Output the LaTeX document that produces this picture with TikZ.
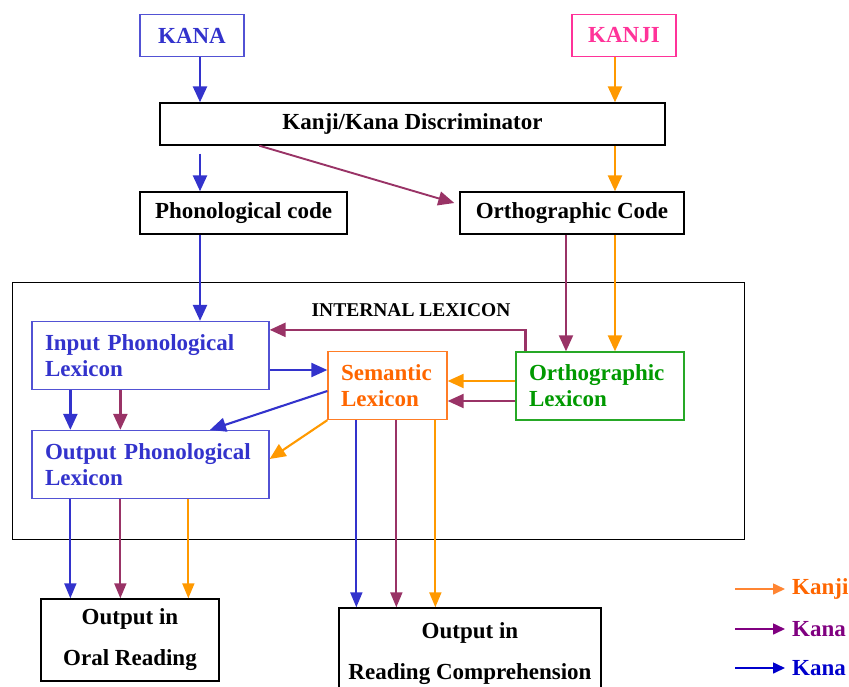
\documentclass[tikz,border=0pt]{standalone}
\usepackage{fontspec}
\setmainfont{Liberation Serif}
\usetikzlibrary{arrows.meta, positioning, calc}
\definecolor{kanabiru}{RGB}{51,51,204}
\definecolor{kanjipink}{RGB}{255,51,153}
\definecolor{kanjioranye}{RGB}{255,153,0}
\definecolor{semoranye}{RGB}{255,102,0}
\definecolor{kanaungu}{RGB}{153,51,102}
\definecolor{ortohijau}{RGB}{0,153,0}
\definecolor{legungu}{RGB}{128,0,128}
\definecolor{legbiru}{RGB}{0,0,204}

\begin{document}
\begin{tikzpicture}[x=1pt, y=-1pt,
    font=\fontsize{23}{26}\selectfont\bfseries,
    kotak/.style={draw, line width=1.4pt, inner sep=0pt, minimum height=42pt},
    leks/.style={draw, line width=1.3pt, align=left, text width=#1,
                 inner xsep=13pt, inner ysep=0pt, minimum height=68pt},
    panah/.style={-{Triangle[length=16pt, width=14pt]}, line width=2.5pt},
    tipis/.style={-{Triangle[length=15pt, width=12pt]}, line width=1.9pt}
  ]
    \useasboundingbox (0,0) rectangle (849,686);
    % masukan
    \node[kotak, draw=kanabiru!85, text=kanabiru, minimum width=104pt] (kana) at (192,35.5) {KANA};
    \node[kotak, draw=kanjipink, text=kanjipink, minimum width=104pt] (kanji) at (624,35.5) {KANJI};
    \node[kotak, minimum width=505pt] (disk) at (412.5,124) {Kanji/Kana Discriminator};
    \node[kotak, minimum width=207pt] (fon) at (243.5,213) {Phonological code};
    \node[kotak, minimum width=224pt] (orto) at (572,213) {Orthographic Code};
    % leksikon internal
    \node[draw, line width=1pt, inner sep=0pt, minimum width=732pt, minimum height=257pt] (lex) at (378,410.5) {};
    \node[font=\fontsize{19.5}{22}\selectfont\bfseries] (judul) at (411,310) {INTERNAL LEXICON};
    \node[leks=211pt, draw=kanabiru!85, text=kanabiru] (inp) at (150.5,355.5) {Input Phonological\\Lexicon};
    \node[leks=211pt, draw=kanabiru!85, text=kanabiru] (outp) at (150.5,464.5) {Output Phonological\\Lexicon};
    \node[leks=93pt, draw=semoranye!85, text=semoranye] (sem) at (387.5,385.5) {Semantic\\Lexicon};
    \node[leks=142pt, draw=ortohijau!85, text=ortohijau] (olex) at (600,386) {Orthographic\\Lexicon};
    % keluaran
    \node[kotak, minimum width=178pt, minimum height=82pt, align=center,
          font=\fontsize{23}{23}\selectfont\bfseries] (oral) at (130,640) {Output in\\[18pt]Oral Reading};
    \node[kotak, minimum width=262pt, minimum height=92pt, align=center,
          font=\fontsize{23}{23}\selectfont\bfseries] (komp) at (470,654) {Output in\\[18pt]Reading Comprehension};
    % legenda
    \node[anchor=west, text=semoranye, inner xsep=7pt] (lg1) at (785,589) {Kanji};
    \node[anchor=west, text=legungu, inner xsep=7pt] (lg2) at (785,629) {Kana};
    \node[anchor=west, text=legbiru, inner xsep=7pt] (lg3) at (785,668) {Kana};
    \draw[-{Triangle[length=12pt, width=11pt]}, line width=1.6pt, semoranye!80] ([xshift=-50pt]lg1.west) -- (lg1.west);
    \draw[-{Triangle[length=12pt, width=11pt]}, line width=1.6pt, legungu] ([xshift=-50pt]lg2.west) -- (lg2.west);
    \draw[-{Triangle[length=12pt, width=11pt]}, line width=1.6pt, legbiru] ([xshift=-50pt]lg3.west) -- (lg3.west);
    % jalur
    \coordinate (kb) at (200,0);
    \coordinate (kj) at (615,0);
    \coordinate (kp) at (566,0);
    \coordinate (o1) at ($(outp.south west)+(39,0)$);
    \coordinate (o2) at ($(outp.south west)+(89,0)$);
    \coordinate (o3) at ($(outp.south west)+(157,0)$);
    \coordinate (s1) at ($(sem.south west)+(29,0)$);
    \coordinate (s2) at ($(sem.south west)+(69,0)$);
    \coordinate (s3) at ($(sem.south west)+(108,0)$);
    \draw[panah, kanabiru] (kb |- kana.south) -- (kb |- disk.north);
    \draw[panah, kanjioranye] (kj |- kanji.south) -- (kj |- disk.north);
    \draw[panah, kanabiru] ($(kb |- disk.south)+(0,8)$) -- (kb |- fon.north);
    \draw[panah, kanjioranye] (kj |- disk.south) -- (kj |- orto.north);
    \draw[panah, kanaungu, line width=1.9pt] ($(disk.south west)+(100,0)$) -- ($(orto.west)+(-5,-10)$);
    \draw[panah, kanabiru] (kb |- fon.south) -- (kb |- inp.north);
    \draw[panah, kanaungu, line width=1.9pt] (kp |- orto.south) -- (kp |- olex.north);
    \draw[panah, kanjioranye] (kj |- orto.south) -- (kj |- olex.north);
    \draw[panah, kanaungu] ($(olex.north west)+(10,0)$) |- ($(inp.north east)+(0,9)$);
    \draw[panah, kanjioranye, line width=2.1pt] ($(olex.west)+(0,-5)$) -- ($(sem.east)+(0,-4.5)$);
    \draw[panah, kanaungu, line width=2.1pt] ($(olex.west)+(0,15)$) -- ($(sem.east)+(0,15.5)$);
    \draw[panah, kanabiru, line width=2.1pt] ($(inp.east)+(0,14.5)$) -- ($(sem.west)+(0,-15.5)$);
    \draw[panah, kanabiru, line width=2.1pt] ($(sem.west)+(0,5.5)$) -- ($(outp.north)+(59.5,0)$);
    \draw[panah, kanjioranye, line width=2.1pt] (sem.south west) -- ($(outp.east)+(0,-5.5)$);
    \draw[panah, kanabiru] ($(inp.south west)+(39,0)$) -- ($(outp.north west)+(39,0)$);
    \draw[panah, kanaungu] ($(inp.south west)+(89,0)$) -- ($(outp.north west)+(89,0)$);
    \draw[tipis, kanabiru] (o1) -- (o1 |- oral.north);
    \draw[tipis, kanaungu] (o2) -- (o2 |- oral.north);
    \draw[tipis, kanjioranye] (o3) -- (o3 |- oral.north);
    \draw[tipis, kanabiru] (s1) -- (s1 |- komp.north);
    \draw[tipis, kanaungu] (s2) -- (s2 |- komp.north);
    \draw[tipis, kanjioranye] (s3) -- (s3 |- komp.north);
\end{tikzpicture}
\end{document}
